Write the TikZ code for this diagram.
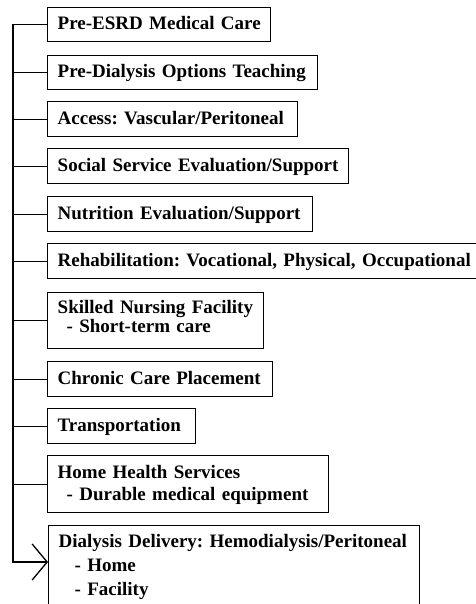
\documentclass[tikz,border=0pt]{standalone}
\usepackage{fontspec}
\setmainfont{Liberation Serif}
\frenchspacing
\usetikzlibrary{arrows.meta}
\begin{document}
\begin{tikzpicture}[x=1pt,y=-1pt,
  box/.style={draw, line width=1.4pt, anchor=north west, align=left,
    inner xsep=10pt, font=\fontsize{19}{19}\selectfont\bfseries},
  oneline/.style={box, text height=14pt, text depth=3.5pt},
  link/.style={line width=1.3pt}]
\useasboundingbox (0,0) rectangle (475,604);

% service boxes, top to bottom
\node[oneline, text width=203pt, minimum height=34pt] (care) at (47,7)
  {\mbox{Pre-ESRD Medical Care}};
\node[oneline, text width=250pt, minimum height=34pt] (teach) at (47,55)
  {\mbox{Pre-Dialysis Options Teaching}};
\node[oneline, text width=230pt, minimum height=35pt] (access) at (47,101)
  {\mbox{Access: Vascular/Peritoneal}};
\node[oneline, text width=281pt, minimum height=35pt] (social) at (47,148)
  {\mbox{Social Service Evaluation/Support}};
\node[oneline, text width=245pt, minimum height=35pt] (nutri) at (47,196)
  {\mbox{Nutrition Evaluation/Support}};
\node[oneline, text width=433pt, minimum height=35pt] (rehab) at (47,243)
  {\mbox{Rehabilitation: Vocational, Physical, Occupational}};
\node[box, text width=196pt, minimum height=56pt, text height=14pt, text depth=28pt]
  (nursing) at (47,292)
  {\mbox{Skilled Nursing Facility}\\\hspace*{9pt}- Short-term care};
\node[oneline, text width=205pt, minimum height=35pt] (chronic) at (47,361)
  {\mbox{Chronic Care Placement}};
\node[oneline, text width=128pt, minimum height=35pt] (transport) at (47,408)
  {\mbox{Transportation}};
\node[box, text width=261pt, minimum height=57pt, text height=14pt, text depth=25pt,
  font=\fontsize{19}{22}\selectfont\bfseries] (home) at (47,455)
  {\mbox{Home Health Services}\\\hspace*{9pt}\mbox{- Durable medical equipment}};
\node[box, text width=351pt, inner ysep=8pt, text height=14pt, text depth=56pt,
  font=\fontsize{19}{24}\selectfont\bfseries] (dialysis) at (48,525)
  {\mbox{Dialysis Delivery: Hemodialysis/Peritoneal}\\\hspace*{16pt}- Home\\\hspace*{16pt}- Facility};

% trunk line and its end point
\coordinate (tail) at (13,562);
\draw[link, -{Straight Barb[length=15pt,width=36pt]}]
  (care.west) -| (tail) -- (dialysis.west |- tail);

% branches from the trunk
\foreach \n in {teach,access,social,nutri,rehab,nursing,chronic,transport,home}
  \draw[link] (\n.west) -- (\n.west -| tail);
\end{tikzpicture}
\end{document}
